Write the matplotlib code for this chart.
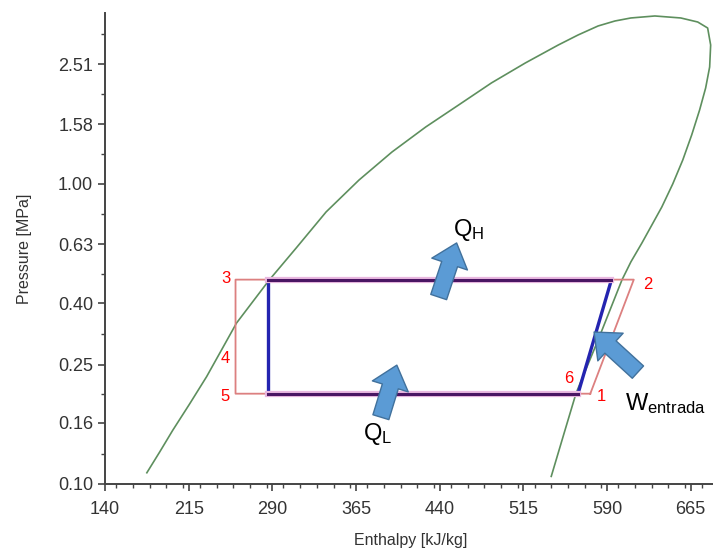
import numpy as np
import matplotlib
matplotlib.use("Agg")
import matplotlib.pyplot as plt
from matplotlib.patches import FancyArrowPatch
from matplotlib.ticker import FixedLocator, MultipleLocator, NullFormatter

plt.rcParams["font.family"] = ["Liberation Sans", "DejaVu Sans"]
plt.rcParams["mathtext.fontset"] = "custom"
plt.rcParams["mathtext.rm"] = "Liberation Sans"

# saturation dome (enthalpy kJ/kg, pressure MPa)
DOME_H = [177.5, 189.1, 200.7, 215.9, 231.1, 244.5, 257.9, 287.3, 311.4, 338.2,
          367.7, 397.2, 427.5, 457.0, 486.4, 516.8, 546.3, 564.1, 582.0, 597.1,
          611.4, 632.9, 656.1, 671.3, 680.2, 682.9, 682.0, 678.4, 673.0, 665.9,
          657.9, 648.9, 639.1, 630.2, 621.3, 611.4, 603.4, 596.3, 582.0, 562.3,
          551.6, 540.0]
DOME_P = [0.109, 0.128, 0.151, 0.185, 0.228, 0.280, 0.344, 0.479, 0.612, 0.807,
          1.031, 1.278, 1.549, 1.834, 2.172, 2.532, 2.906, 3.139, 3.363, 3.494,
          3.576, 3.631, 3.576, 3.467, 3.311, 2.906, 2.455, 2.089, 1.765, 1.457,
          1.202, 1.000, 0.838, 0.730, 0.636, 0.550, 0.479, 0.411, 0.302, 0.201,
          0.148, 0.106]

P_HIGH = 0.48
P_LOW = 0.20

# real cycle (red): 1 -> 2 -> 3 -> 5 -> 1
REAL_H = [575, 614, 257, 257, 575]
REAL_P = [P_LOW, P_HIGH, P_HIGH, P_LOW, P_LOW]

# ideal cycle (blue): 6 -> 2s -> 3s -> 5s -> 6
IDEAL_H = [564, 594, 286, 286, 564]
IDEAL_P = [P_LOW, P_HIGH, P_HIGH, P_LOW, P_LOW]

POINT_LABELS = ["1", "2", "3", "4", "5", "6"]
POINT_LABEL_H = [584.6, 626.6, 248, 248, 248, 556]
POINT_LABEL_P = [0.196, 0.464, 0.486, 0.263, 0.195, 0.224]

X_TICKS = [140, 215, 290, 365, 440, 515, 590, 665]
Y_TICKS = [0.10, 0.16, 0.25, 0.40, 0.63, 1.00, 1.58, 2.51]
Y_TICK_LABELS = ["0.10", "0.16", "0.25", "0.40", "0.63", "1.00", "1.58", "2.51"]

# heat / work arrows: (text, tail h, tail p, tip h, tip p, text h, text p)
ARROWS = [
    (r"$\mathregular{Q_H}$", 439.1, 0.42, 455.2, 0.636, 466.0, 0.70),
    (r"$\mathregular{Q_L}$", 387.3, 0.167, 401.6, 0.249, 384.0, 0.147),
    (r"$\mathregular{W_{entrada}}$", 617.7, 0.236, 578.4, 0.321, 606.0, 0.185),
]

fig = plt.figure(figsize=(7.13, 5.52), dpi=100)
ax = fig.add_axes([105 / 713, 68 / 552, 608 / 713, 471 / 552])

ax.set_yscale("log")
ax.set_xlim(140, 685)
ax.set_ylim(0.10, 3.715)

ax.plot(DOME_H, DOME_P, color="#5e8f5e", lw=1.2, zorder=2)

ax.plot(REAL_H, REAL_P, color="#dc8080", lw=1.3, zorder=3)
# ideal cycle: vertical/compression legs blue, horizontal legs overlap as purple
ax.plot(IDEAL_H[0:2], IDEAL_P[0:2], color="#2424b0", lw=2.4, zorder=4)
ax.plot(IDEAL_H[2:4], IDEAL_P[2:4], color="#2424b0", lw=2.4, zorder=4)
ax.plot(IDEAL_H[1:3], IDEAL_P[1:3], color="#e9b8e0", lw=4.5, zorder=4)
ax.plot(IDEAL_H[3:5], IDEAL_P[3:5], color="#e9b8e0", lw=4.5, zorder=4)
ax.plot(IDEAL_H[1:3], IDEAL_P[1:3], color="#4a1663", lw=2.2, zorder=5)
ax.plot(IDEAL_H[3:5], IDEAL_P[3:5], color="#4a1663", lw=2.2, zorder=5)

for lab, h, p in zip(POINT_LABELS, POINT_LABEL_H, POINT_LABEL_P):
    ax.text(h, p, lab, color="red", fontsize=12, ha="center", va="center", zorder=6)

for txt, h0, p0, h1, p1, ht, pt in ARROWS:
    arr = FancyArrowPatch(
        (h0, p0), (h1, p1),
        arrowstyle="simple,head_length=16,head_width=27,tail_width=12",
        mutation_scale=1, shrinkA=0, shrinkB=0,
        fc="#5b9bd5", ec="#41719c", lw=1.0, zorder=7,
    )
    ax.add_patch(arr)
    ha = "left" if "entrada" in txt else "center"
    ax.text(ht, pt, txt, fontsize=17, ha=ha, va="center", color="black", zorder=8)

for side in ["top", "right"]:
    ax.spines[side].set_visible(False)
for side in ["left", "bottom"]:
    ax.spines[side].set_color("#444444")
    ax.spines[side].set_linewidth(1.4)

ax.xaxis.set_major_locator(FixedLocator(X_TICKS))
ax.xaxis.set_minor_locator(MultipleLocator(15))
ax.yaxis.set_major_locator(FixedLocator(Y_TICKS))
ax.yaxis.set_major_formatter(plt.FixedFormatter(Y_TICK_LABELS))
ax.yaxis.set_minor_locator(FixedLocator([10 ** (-0.9 + 0.2 * k) for k in range(8)]))
ax.yaxis.set_minor_formatter(NullFormatter())

ax.tick_params(which="major", length=5, width=1.2, color="#444444",
               labelsize=13, labelcolor="#333333", direction="out")
ax.tick_params(which="minor", length=3, width=1.0, color="#444444", direction="out")
ax.tick_params(axis="x", which="major", pad=7)

ax.set_xlabel("Enthalpy [kJ/kg]", fontsize=11.5, color="#333333")
ax.set_ylabel("Pressure [MPa]", fontsize=11.5, color="#333333")
ax.xaxis.set_label_coords(0.503, -0.104)
ax.yaxis.set_label_coords(-0.12, 0.50)

fig.savefig("out.png", dpi=100)
